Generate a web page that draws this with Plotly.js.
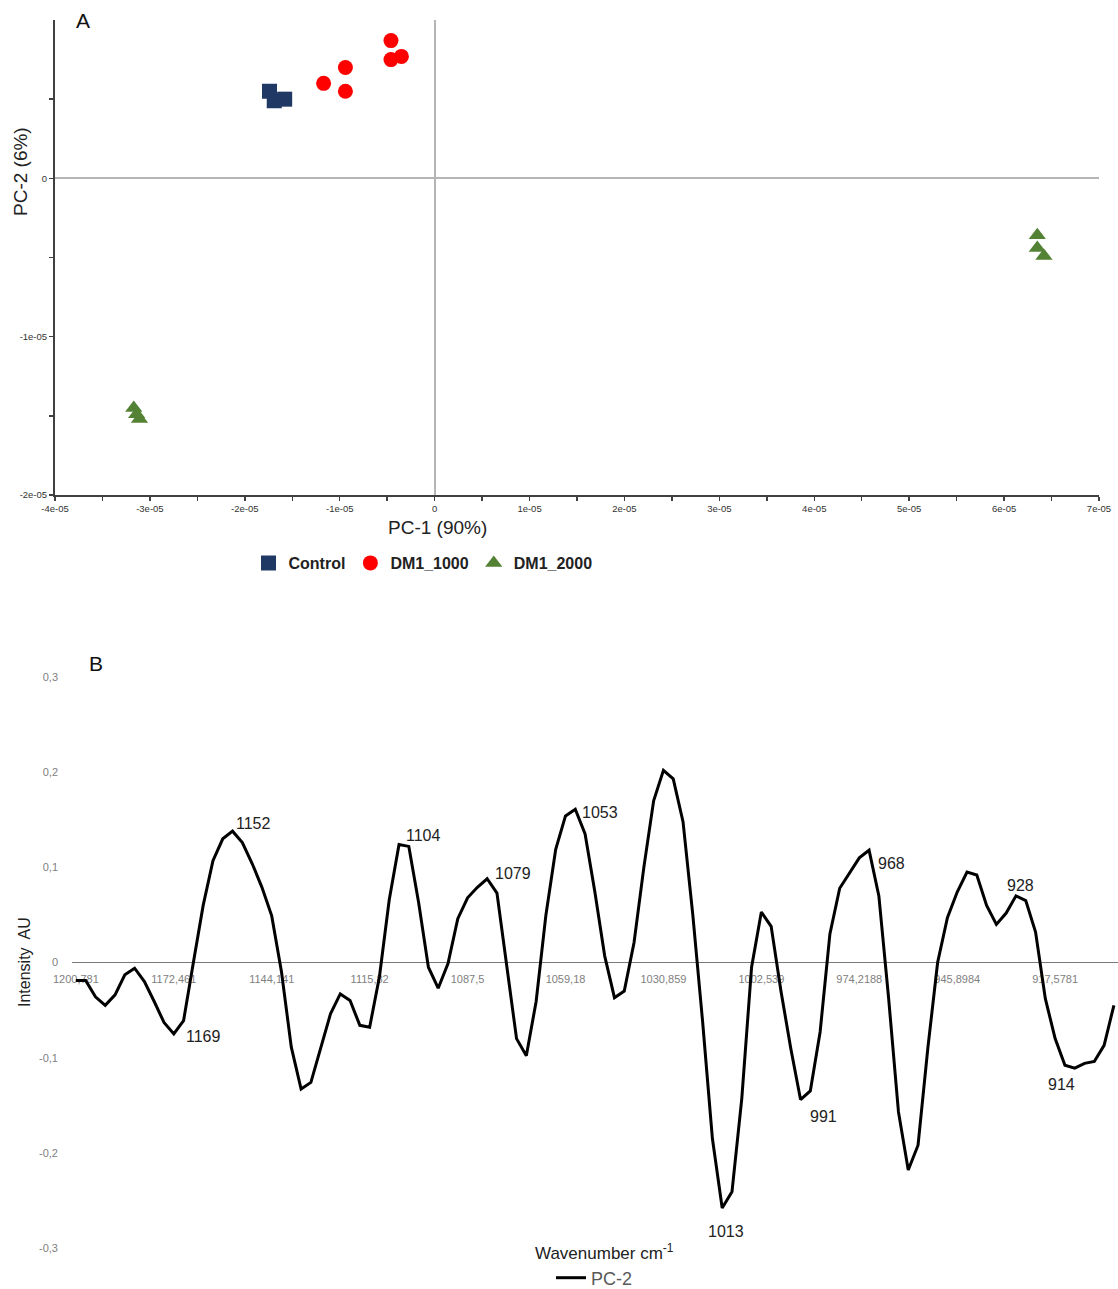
<!DOCTYPE html>
<html>
<head>
<meta charset="utf-8">
<script src="https://cdn.plot.ly/plotly-3.0.1.min.js"></script>
<style>
  html, body { margin: 0; padding: 0; background: #ffffff; }
  #chart { width: 1118px; height: 1289px; }
</style>
</head>
<body>
<div id="chart"></div>
<script>
// ---------- Panel A: PCA scores ----------
const controlX = [-1.74e-5, -1.69e-5, -1.58e-5];
const controlY = [0.55e-5, 0.49e-5, 0.50e-5];
const dm1000X = [-0.46e-5, -0.46e-5, -0.35e-5, -0.94e-5, -1.17e-5, -0.94e-5];
const dm1000Y = [0.87e-5, 0.75e-5, 0.77e-5, 0.70e-5, 0.60e-5, 0.55e-5];
const dm2000X = [-3.17e-5, -3.14e-5, -3.11e-5, 6.35e-5, 6.35e-5, 6.42e-5];
const dm2000Y = [-1.45e-5, -1.49e-5, -1.52e-5, -0.36e-5, -0.44e-5, -0.49e-5];

const pcaXTickVals = [-4e-5, -3e-5, -2e-5, -1e-5, 0, 1e-5, 2e-5, 3e-5, 4e-5, 5e-5, 6e-5, 7e-5];
const pcaXTickText = ['-4e-05', '-3e-05', '-2e-05', '-1e-05', '0', '1e-05', '2e-05', '3e-05', '4e-05', '5e-05', '6e-05', '7e-05'];
const pcaXMinorVals = [-3.5e-5, -2.5e-5, -1.5e-5, -0.5e-5, 0.5e-5, 1.5e-5, 2.5e-5, 3.5e-5, 4.5e-5, 5.5e-5, 6.5e-5];
const pcaYTickVals = [-2e-5, -1e-5, 0];
const pcaYTickText = ['-2e-05', '-1e-05', '0'];
const pcaYMinorVals = [-1.5e-5, -0.5e-5, 0.5e-5];

// ---------- Panel B: PC-2 loadings ----------
const wavenumbers = [
  1200.781, 1197.949, 1195.117, 1192.285, 1189.453, 1186.621, 1183.789, 1180.957, 1178.125, 1175.293,
  1172.461, 1169.629, 1166.797, 1163.965, 1161.133, 1158.301, 1155.469, 1152.637, 1149.805, 1146.973,
  1144.141, 1141.309, 1138.477, 1135.645, 1132.813, 1129.981, 1127.149, 1124.317, 1121.485, 1118.653,
  1115.820, 1112.988, 1110.156, 1107.324, 1104.492, 1101.660, 1098.828, 1095.996, 1093.164, 1090.332,
  1087.500, 1084.668, 1081.836, 1079.004, 1076.172, 1073.340, 1070.508, 1067.676, 1064.844, 1062.012,
  1059.180, 1056.348, 1053.516, 1050.684, 1047.852, 1045.020, 1042.188, 1039.356, 1036.524, 1033.692,
  1030.859, 1028.027, 1025.195, 1022.363, 1019.531, 1016.699, 1013.867, 1011.035, 1008.203, 1005.371,
  1002.539, 999.707, 996.875, 994.043, 991.211, 988.379, 985.547, 982.715, 979.883, 977.051,
  974.219, 971.387, 968.555, 965.723, 962.891, 960.059, 957.227, 954.395, 951.563, 948.731,
  945.898, 943.066, 940.234, 937.402, 934.570, 931.738, 928.906, 926.074, 923.242, 920.410,
  917.578, 914.746, 911.914, 909.082, 906.250, 903.418, 900.586
];
const pc2 = [
  -0.019, -0.019, -0.036, -0.045, -0.034, -0.013, -0.006, -0.020, -0.041, -0.063,
  -0.075, -0.061, 0.000, 0.060, 0.107, 0.130, 0.138, 0.126, 0.104, 0.079,
  0.049, -0.010, -0.089, -0.133, -0.126, -0.090, -0.054, -0.033, -0.040, -0.066,
  -0.068, -0.015, 0.066, 0.124, 0.122, 0.063, -0.005, -0.027, -0.001, 0.046,
  0.068, 0.079, 0.088, 0.073, -0.005, -0.080, -0.098, -0.041, 0.050, 0.119,
  0.154, 0.161, 0.135, 0.074, 0.007, -0.037, -0.030, 0.021, 0.100, 0.170,
  0.202, 0.193, 0.148, 0.050, -0.062, -0.185, -0.258, -0.241, -0.143, -0.005,
  0.053, 0.038, -0.030, -0.090, -0.144, -0.135, -0.073, 0.030, 0.078, 0.094,
  0.110, 0.118, 0.070, -0.038, -0.157, -0.218, -0.192, -0.090, 0.000, 0.047,
  0.074, 0.095, 0.092, 0.060, 0.040, 0.052, 0.070, 0.065, 0.032, -0.038,
  -0.080, -0.108, -0.111, -0.106, -0.104, -0.087, -0.045
];
const wnTickVals = [1200.781, 1172.461, 1144.141, 1115.820, 1087.500, 1059.180, 1030.859, 1002.539, 974.219, 945.898, 917.578];
const wnTickText = ['1200,781', '1172,461', '1144,141', '1115,82', '1087,5', '1059,18', '1030,859', '1002,539', '974,2188', '945,8984', '917,5781'];
const intTickVals = [-0.3, -0.2, -0.1, 0, 0.1, 0.2, 0.3];
const intTickText = ['-0,3', '-0,2', '-0,1', '0', '0,1', '0,2', '0,3'];

// peak labels: text, index of the point they belong to
const peakLabels = ['1169', '1152', '1104', '1079', '1053', '1013', '991', '968', '928', '914'];
const peakIndex  = [10, 16, 34, 42, 51, 66, 74, 81, 96, 101];
// label offsets in pixels (styling)
const peakShiftX = [30, 21, 15, 26, 25, 4, 23, 22, 5, -3];
const peakShiftY = [-3, 8, 11, 5, -3, -23, -17, -13, 10, -19];

const FONT = 'Liberation Sans, Arial, Helvetica, sans-serif';
const W = 1118, H = 1289;
const px = v => v / W;
const py = v => 1 - v / H;

const traces = [
  { type: 'scatter', mode: 'markers', name: 'Control', x: controlX, y: controlY, xaxis: 'x', yaxis: 'y',
    marker: { symbol: 'square', size: 15, color: '#203864' }, legend: 'legend' },
  { type: 'scatter', mode: 'markers', name: 'DM1_1000', x: dm1000X, y: dm1000Y, xaxis: 'x', yaxis: 'y',
    marker: { symbol: 'circle', size: 15, color: '#ff0000' }, legend: 'legend' },
  { type: 'scatter', mode: 'markers', name: 'DM1_2000', x: dm2000X, y: dm2000Y, xaxis: 'x', yaxis: 'y',
    marker: { symbol: 'triangle-up', size: 15, color: '#548235' }, legend: 'legend' },
  { type: 'scatter', mode: 'lines', name: 'PC-2', x: wavenumbers, y: pc2, xaxis: 'x2', yaxis: 'y2',
    line: { color: '#000000', width: 3 }, legend: 'legend2' }
];

function note(text, x, y, size, extra) {
  return Object.assign({ text: text, x: px(x), y: py(y), xref: 'paper', yref: 'paper', showarrow: false,
    xanchor: 'center', yanchor: 'middle', font: { family: FONT, size: size, color: '#222' } }, extra || {});
}

const annotations = [
  note('A', 83, 20, 21, { font: { family: FONT, size: 21, color: '#111' } }),
  note('B', 96, 663, 21, { font: { family: FONT, size: 21, color: '#111' } }),
  note('PC-1 (90%)', 437, 528, 19),
  note('PC-2 (6%)', 20, 172, 19, { textangle: -90 }),
  note('Wavenumber cm<sup>-1</sup>', 604, 1252, 17),
  note('Intensity  AU', 25, 962, 16, { textangle: -90 })
];
peakLabels.forEach((t, k) => {
  annotations.push({
    text: t, x: wavenumbers[peakIndex[k]], y: pc2[peakIndex[k]], xref: 'x2', yref: 'y2',
    showarrow: false, xshift: peakShiftX[k], yshift: peakShiftY[k],
    xanchor: 'center', yanchor: 'middle',
    font: { family: FONT, size: 16, color: '#222' }
  });
});

const y2dom = [py(1248), py(677)];

const layout = {
  width: W, height: H,
  margin: { l: 0, r: 0, t: 0, b: 0, autoexpand: false },
  paper_bgcolor: '#ffffff', plot_bgcolor: '#ffffff',
  font: { family: FONT, color: '#222' },
  showlegend: true,
  xaxis: {
    domain: [px(55), px(1099)], anchor: 'y', range: [-4e-5, 7e-5],
    tickmode: 'array', tickvals: pcaXTickVals, ticktext: pcaXTickText,
    ticks: 'outside', ticklen: 4, tickwidth: 1.5, tickcolor: '#404040',
    minor: { tickmode: 'array', tickvals: pcaXMinorVals, ticks: 'outside', ticklen: 4, tickwidth: 1.5, tickcolor: '#404040', showgrid: false },
    showline: true, linecolor: '#404040', linewidth: 2,
    showgrid: false, zeroline: true, zerolinecolor: '#b5b5b5', zerolinewidth: 2,
    tickfont: { family: FONT, size: 9.5, color: '#333' }
  },
  yaxis: {
    domain: [py(495), py(20)], anchor: 'x', range: [-2e-5, 1e-5],
    tickmode: 'array', tickvals: pcaYTickVals, ticktext: pcaYTickText,
    ticks: 'outside', ticklen: 4, tickwidth: 1.5, tickcolor: '#404040',
    minor: { tickmode: 'array', tickvals: pcaYMinorVals, ticks: 'outside', ticklen: 4, tickwidth: 1.5, tickcolor: '#404040', showgrid: false },
    showline: true, linecolor: '#404040', linewidth: 2,
    showgrid: false, zeroline: true, zerolinecolor: '#b5b5b5', zerolinewidth: 2,
    tickfont: { family: FONT, size: 9.5, color: '#333' }
  },
  xaxis2: {
    domain: [px(72), 1], anchor: 'free', position: (y2dom[0] + y2dom[1]) / 2,
    range: [1201.9, 899.4],
    tickmode: 'array', tickvals: wnTickVals, ticktext: wnTickText,
    ticks: '', showline: false, showgrid: false, zeroline: false,
    layer: 'below traces', ticklabelstandoff: 8,
    tickfont: { family: FONT, size: 11, color: '#808080' }
  },
  yaxis2: {
    domain: y2dom, anchor: 'x2', range: [-0.3, 0.3],
    tickmode: 'array', tickvals: intTickVals, ticktext: intTickText,
    ticks: '', showline: false, showgrid: false,
    zeroline: true, zerolinecolor: '#7a7a7a', zerolinewidth: 1.5,
    ticklabelstandoff: 13,
    tickfont: { family: FONT, size: 11, color: '#808080' }
  },
  legend: {
    orientation: 'h', x: px(423), y: py(563), xanchor: 'center', yanchor: 'middle',
    font: { family: FONT, size: 16, color: '#222', weight: 'bold' },
    bgcolor: 'rgba(0,0,0,0)', itemwidth: 30
  },
  legend2: {
    orientation: 'h', x: px(551), y: py(1278), xanchor: 'left', yanchor: 'middle',
    font: { family: FONT, size: 18, color: '#595959' },
    bgcolor: 'rgba(0,0,0,0)', itemwidth: 30
  },
  annotations: annotations
};

Plotly.newPlot('chart', traces, layout, { displayModeBar: false, staticPlot: true });
</script>
</body>
</html>
